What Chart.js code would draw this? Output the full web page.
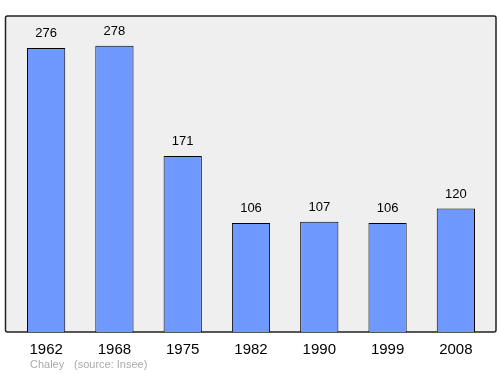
<!DOCTYPE html>
<html lang="fr">
  <head>
    <meta charset="UTF-8" />
    <title>Chaley :: population</title>
    <script src="https://cdn.jsdelivr.net/npm/chart.js"></script>
    <style>
      html, body { margin: 0; padding: 0; background: #fff; }
      #wrapper { width: 500px; height: 374px; }
    </style>
  </head>
  <body>
    <div id="wrapper">
      <canvas id="popChart" width="500" height="374"></canvas>
    </div>
    <script>
      // population by census year
      var years = ["1962", "1968", "1975", "1982", "1990", "1999", "2008"];
      var population = [276, 278, 171, 106, 107, 106, 120];
      var footerName = "Chaley";
      var footerSource = "(source: Insee)";

      // grey frame behind the bars
      var framePlugin = {
        id: "frame",
        beforeDatasetsDraw: function (chart) {
          var ctx = chart.ctx;
          var a = chart.chartArea;
          ctx.save();
          ctx.fillStyle = "#efefef";
          ctx.strokeStyle = "#222";
          ctx.lineWidth = 1.5;
          ctx.beginPath();
          ctx.roundRect(5.5, a.top, 490.5, a.bottom - a.top, 2);
          ctx.fill();
          ctx.stroke();
          ctx.restore();
        },
        afterDatasetsDraw: function (chart) {
          var ctx = chart.ctx;
          var meta = chart.getDatasetMeta(0);
          ctx.save();
          ctx.font = "13px 'Liberation Sans', Arial, sans-serif";
          ctx.fillStyle = "#000";
          ctx.textAlign = "center";
          ctx.textBaseline = "bottom";
          meta.data.forEach(function (bar, i) {
            ctx.fillText(String(population[i]), bar.x, bar.y - 8);
          });
          // footer
          ctx.font = "11px 'Liberation Sans', Arial, sans-serif";
          ctx.fillStyle = "#aaa";
          ctx.textAlign = "left";
          ctx.textBaseline = "middle";
          ctx.fillText(footerName, 30, 365);
          ctx.fillText(footerSource, 74, 365);
          ctx.restore();
        },
      };

      var ctx = document.getElementById("popChart").getContext("2d");
      var chart = new Chart(ctx, {
        type: "bar",
        data: {
          labels: years,
          datasets: [
            {
              data: population,
              backgroundColor: "#7099ff",
              borderColor: "#000",
              borderWidth: 1,
              categoryPercentage: 1,
              barPercentage: 0.56,
            },
          ],
        },
        options: {
          responsive: false,
          animation: false,
          layout: { padding: { left: 12, right: 10, top: 16, bottom: 6 } },
          plugins: { legend: { display: false }, tooltip: { enabled: false } },
          scales: {
            x: {
              grid: { display: false, drawTicks: false },
              border: { display: false },
              ticks: {
                color: "#000",
                padding: 9,
                font: { size: 15, family: "'Liberation Sans', Arial, sans-serif" },
              },
            },
            y: { display: false, min: 0, max: 307 },
          },
        },
        plugins: [framePlugin],
      });
    </script>
  </body>
</html>
